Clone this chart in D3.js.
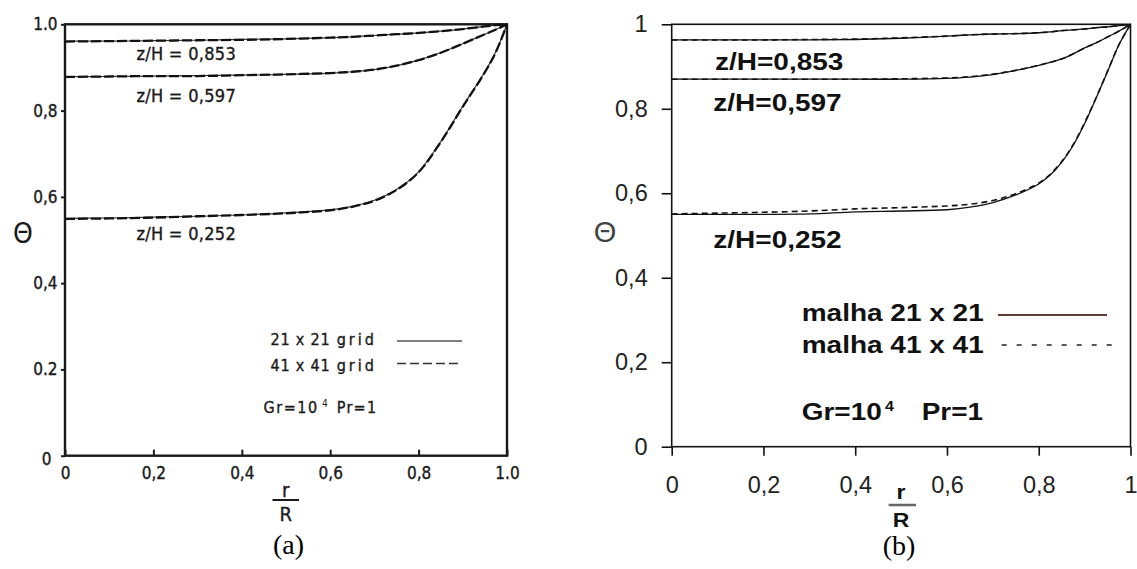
<!DOCTYPE html>
<html><head><meta charset="utf-8">
<script src="https://cdn.jsdelivr.net/npm/d3@7"></script>
<style>body{margin:0;background:#fff}svg{display:block}</style>
</head><body>
<script>
// ---------- DATA ----------
// Panel (a): r/R positions and Theta values
const rA = [0, 0.1, 0.2, 0.3, 0.4, 0.5, 0.6, 0.65, 0.7, 0.75, 0.8, 0.85, 0.9, 0.95, 0.975, 1.0];
const a21_853 = [0.961, 0.961, 0.962, 0.963, 0.965, 0.966, 0.969, 0.971, 0.974, 0.977, 0.980, 0.984, 0.989, 0.995, 0.998, 1.0];
const a41_853 = [0.960, 0.961, 0.962, 0.963, 0.964, 0.966, 0.969, 0.971, 0.974, 0.977, 0.980, 0.984, 0.989, 0.995, 0.998, 1.0];
const a21_597 = [0.879, 0.879, 0.880, 0.881, 0.882, 0.884, 0.887, 0.890, 0.895, 0.904, 0.917, 0.934, 0.955, 0.977, 0.988, 1.0];
const a41_597 = [0.878, 0.879, 0.880, 0.880, 0.882, 0.884, 0.887, 0.890, 0.895, 0.904, 0.917, 0.934, 0.955, 0.977, 0.988, 1.0];
const a21_252 = [0.550, 0.551, 0.553, 0.555, 0.558, 0.563, 0.570, 0.578, 0.592, 0.617, 0.658, 0.728, 0.810, 0.890, 0.937, 1.0];
const a41_252 = [0.549, 0.550, 0.552, 0.555, 0.558, 0.562, 0.569, 0.577, 0.591, 0.616, 0.657, 0.727, 0.809, 0.889, 0.936, 1.0];

// Panel (b)
const rB = [0, 0.1, 0.2, 0.3, 0.4, 0.5, 0.6, 0.65, 0.7, 0.75, 0.8, 0.825, 0.85, 0.875, 0.9, 0.925, 0.95, 0.975, 1.0];
const b21_853 = [0.963, 0.963, 0.963, 0.963, 0.964, 0.967, 0.972, 0.975, 0.977, 0.978, 0.980, 0.982, 0.985, 0.987, 0.989, 0.992, 0.994, 0.997, 1.0];
const b41_853 = [0.963, 0.963, 0.963, 0.964, 0.965, 0.968, 0.972, 0.975, 0.977, 0.978, 0.980, 0.982, 0.985, 0.987, 0.989, 0.992, 0.994, 0.997, 1.0];
const b21_597 = [0.870, 0.870, 0.870, 0.870, 0.870, 0.870, 0.872, 0.875, 0.881, 0.891, 0.903, 0.910, 0.918, 0.930, 0.944, 0.956, 0.970, 0.984, 1.0];
const b41_597 = [0.870, 0.870, 0.870, 0.870, 0.870, 0.871, 0.873, 0.876, 0.882, 0.891, 0.903, 0.910, 0.918, 0.930, 0.944, 0.956, 0.970, 0.984, 1.0];
const b21_252 = [0.550, 0.550, 0.550, 0.551, 0.556, 0.558, 0.561, 0.567, 0.578, 0.596, 0.622, 0.643, 0.673, 0.713, 0.765, 0.825, 0.888, 0.952, 1.0];
const b41_252 = [0.551, 0.553, 0.555, 0.558, 0.563, 0.566, 0.570, 0.574, 0.583, 0.599, 0.624, 0.645, 0.675, 0.715, 0.767, 0.826, 0.889, 0.952, 1.0];

// Ticks and labels
const tickValues = [0, 0.2, 0.4, 0.6, 0.8, 1.0];
const aYTickLabels = ["0", "0.2", "0,4", "0,6", "0,8", "1.0"];
const aXTickLabels = ["0", "0,2", "0,4", "0,6", "0,8", "1.0"];
const bYTickLabels = ["0", "0,2", "0,4", "0,6", "0,8", "1"];
const bXTickLabels = ["0", "0,2", "0,4", "0,6", "0,8", "1"];
const aCurveLabels = ["z/H = 0,853", "z/H = 0,597", "z/H = 0,252"];
const bCurveLabels = ["z/H=0,853", "z/H=0,597", "z/H=0,252"];
const aLegendLabels = ["21 x 21", "41 x 41"];
const bLegendLabels = ["malha 21 x 21", "malha 41 x 41"];

// ---------- DRAW ----------
const W = 1137, H = 569;
const svg = d3.select("body").append("svg").attr("width", W).attr("height", H);
svg.append("rect").attr("width", W).attr("height", H).attr("fill", "#fff");

const fA = "'DejaVu Sans Condensed','DejaVu Sans',sans-serif";
const fB = "'Liberation Sans',Arial,sans-serif";
const fS = "'Liberation Serif','Times New Roman',serif";
const inkA = "#1a1a1a";

function heavy(sel) { return sel.attr("stroke", inkA).attr("stroke-width", 0.35); }

// ===== Panel (a) =====
const xA = d3.scaleLinear().domain([0, 1]).range([65, 507]);
const yA = d3.scaleLinear().domain([0, 1]).range([455.7, 24.3]);
const gA = svg.append("g");

const yAxA = gA.append("g").attr("transform", `translate(${xA(0)},0)`)
  .call(d3.axisLeft(yA).tickValues(tickValues).tickSize(4).tickPadding(3.5)
    .tickFormat((d, i) => aYTickLabels[i]));
yAxA.select(".domain").remove();
yAxA.selectAll("line").attr("stroke", inkA).attr("stroke-width", 2);
heavy(yAxA.selectAll("text").attr("font-family", fA).attr("font-size", 17).attr("fill", inkA)
  .attr("transform", d => d === 0 ? "translate(-6,3)" : null));

const xAxA = gA.append("g").attr("transform", `translate(0,${yA(0)})`)
  .call(d3.axisBottom(xA).tickValues(tickValues).tickSizeInner(-6).tickSizeOuter(0).tickPadding(11)
    .tickFormat((d, i) => aXTickLabels[i]));
xAxA.select(".domain").remove();
xAxA.selectAll("line").attr("stroke", inkA).attr("stroke-width", 2);
heavy(xAxA.selectAll("text").attr("font-family", fA).attr("font-size", 17).attr("fill", inkA));

gA.append("rect").attr("x", xA(0)).attr("y", yA(1)).attr("width", xA(1) - xA(0)).attr("height", yA(0) - yA(1))
  .attr("fill", "none").attr("stroke", inkA).attr("stroke-width", 2.4);

const lineA = d3.line().x((d, i) => xA(rA[i])).y(d => yA(d)).curve(d3.curveCatmullRom.alpha(0.5));
[a21_853, a21_597, a21_252].forEach(s => gA.append("path").attr("d", lineA(s))
  .attr("fill", "none").attr("stroke", "#333").attr("stroke-width", 1.2));
[a41_853, a41_597, a41_252].forEach(s => gA.append("path").attr("d", lineA(s))
  .attr("fill", "none").attr("stroke", "#111").attr("stroke-width", 2.3).attr("stroke-dasharray", "10,3"));

// curve labels (a)
const aLabelBase = [60, 102, 240];
aCurveLabels.forEach((t, i) => heavy(gA.append("text").attr("x", 136.4).attr("y", aLabelBase[i])
  .attr("font-family", fA).attr("font-size", 18).attr("fill", inkA).attr("letter-spacing", 0.3).text(t)));

// legend (a)
const aLegBase = [345, 370.7];
aLegendLabels.forEach((t, i) => {
  heavy(gA.append("text").attr("x", 270.5).attr("y", aLegBase[i]).attr("font-family", fA).attr("font-size", 16)
    .attr("fill", inkA).attr("letter-spacing", 0.8).text(t));
  heavy(gA.append("text").attr("x", 336.7).attr("y", aLegBase[i]).attr("font-family", fA).attr("font-size", 16)
    .attr("fill", inkA).attr("letter-spacing", 3).text("grid"));
});
gA.append("line").attr("x1", 397).attr("x2", 462).attr("y1", 341).attr("y2", 341)
  .attr("stroke", "#555").attr("stroke-width", 1.6);
gA.append("line").attr("x1", 397).attr("x2", 462).attr("y1", 363.5).attr("y2", 363.5)
  .attr("stroke", "#333").attr("stroke-width", 1.6).attr("stroke-dasharray", "9,4");
heavy(gA.append("text").attr("x", 263.6).attr("y", 413.3).attr("font-family", fA).attr("font-size", 16)
  .attr("fill", inkA).attr("letter-spacing", 1.5).text("Gr=10"));
gA.append("text").attr("x", 322).attr("y", 407).attr("font-family", fA).attr("font-size", 10)
  .attr("fill", inkA).text("4");
heavy(gA.append("text").attr("x", 336.7).attr("y", 413.3).attr("font-family", fA).attr("font-size", 16)
  .attr("fill", inkA).attr("letter-spacing", 1.3).text("Pr=1"));

// axis titles (a)
gA.append("text").attr("x", 23).attr("y", 233).attr("text-anchor", "middle").attr("dominant-baseline", "central")
  .attr("font-family", fA).attr("font-size", 28).attr("fill", inkA).text("Θ");
heavy(gA.append("text").attr("x", 285.7).attr("y", 497).attr("text-anchor", "middle")
  .attr("font-family", fA).attr("font-size", 20).attr("fill", inkA).text("r"));
gA.append("line").attr("x1", 272.5).attr("x2", 299).attr("y1", 500).attr("y2", 500)
  .attr("stroke", inkA).attr("stroke-width", 2);
heavy(gA.append("text").attr("x", 285.7).attr("y", 521).attr("text-anchor", "middle")
  .attr("font-family", fA).attr("font-size", 20).attr("fill", inkA).text("R"));
gA.append("text").attr("x", 288.6).attr("y", 554).attr("text-anchor", "middle")
  .attr("font-family", fS).attr("font-size", 28).attr("fill", "#000").text("(a)");

// ===== Panel (b) =====
const xB = d3.scaleLinear().domain([0, 1]).range([671.7, 1130.5]);
const yB = d3.scaleLinear().domain([0, 1]).range([446.7, 24.3]);
const gB = svg.append("g");

const yAxB = gB.append("g").attr("transform", `translate(${xB(0)},0)`)
  .call(d3.axisLeft(yB).tickValues(tickValues).tickSize(10).tickPadding(14)
    .tickFormat((d, i) => bYTickLabels[i]));
yAxB.select(".domain").remove();
yAxB.selectAll("line").attr("stroke", "#111").attr("stroke-width", 1.6);
yAxB.selectAll("text").attr("font-family", fB).attr("font-size", 23.5).attr("fill", "#222");

const xAxB = gB.append("g").attr("transform", `translate(0,${yB(0)})`)
  .call(d3.axisBottom(xB).tickValues(tickValues).tickSize(9).tickPadding(21)
    .tickFormat((d, i) => bXTickLabels[i]));
xAxB.select(".domain").remove();
xAxB.selectAll("line").attr("stroke", "#111").attr("stroke-width", 1.6);
xAxB.selectAll("text").attr("font-family", fB).attr("font-size", 23.5).attr("fill", "#222");

gB.append("rect").attr("x", xB(0)).attr("y", yB(1)).attr("width", xB(1) - xB(0)).attr("height", yB(0) - yB(1))
  .attr("fill", "none").attr("stroke", "#111").attr("stroke-width", 1.6);

const lineB = d3.line().x((d, i) => xB(rB[i])).y(d => yB(d)).curve(d3.curveCatmullRom.alpha(0.5));
[b21_853, b21_597, b21_252].forEach(s => gB.append("path").attr("d", lineB(s))
  .attr("fill", "none").attr("stroke", "#111").attr("stroke-width", 1.3));
[b41_853, b41_597, b41_252].forEach(s => gB.append("path").attr("d", lineB(s))
  .attr("fill", "none").attr("stroke", "#111").attr("stroke-width", 1.6).attr("stroke-dasharray", "6,4"));

function bText(x, base, txt, size, weight, anchor) {
  const g = gB.append("g").attr("transform", `translate(${x},${base}) scale(1,0.875)`);
  return g.append("text").attr("x", 0).attr("y", 0).attr("font-family", fB).attr("font-size", size)
    .attr("font-weight", weight || "bold").attr("text-anchor", anchor || "start").attr("fill", "#111").text(txt);
}
const bLabelX = [715, 713.3, 713.3], bLabelBase = [70, 110.7, 247.5];
bCurveLabels.forEach((t, i) => bText(bLabelX[i], bLabelBase[i], t, 28));

// legend (b)
const bLegBase = [320.7, 353.3];
bLegendLabels.forEach((t, i) => bText(801.7, bLegBase[i], t, 28));
gB.append("line").attr("x1", 998).attr("x2", 1107).attr("y1", 315).attr("y2", 315)
  .attr("stroke", "#5c3d33").attr("stroke-width", 1.8);
gB.append("line").attr("x1", 1001.7).attr("x2", 1111.7).attr("y1", 345).attr("y2", 345)
  .attr("stroke", "#222").attr("stroke-width", 1.4).attr("stroke-dasharray", "5,10");
bText(801.7, 420, "Gr=10", 28);
bText(885, 411, "4", 16);
bText(921.7, 420, "Pr=1", 28);

// axis titles (b)
gB.append("text").attr("x", 605).attr("y", 232).attr("text-anchor", "middle").attr("dominant-baseline", "central")
  .attr("font-family", fB).attr("font-size", 29).attr("fill", "#444").text("Θ");
bText(901, 499, "r", 23, "bold", "middle");
gB.append("line").attr("x1", 888.7).attr("x2", 916).attr("y1", 505).attr("y2", 505)
  .attr("stroke", "#666").attr("stroke-width", 2.5);
bText(901, 527, "R", 23, "bold", "middle");
gB.append("text").attr("x", 899).attr("y", 554.6).attr("text-anchor", "middle")
  .attr("font-family", fS).attr("font-size", 28).attr("fill", "#000").text("(b)");
</script>
</body></html>
